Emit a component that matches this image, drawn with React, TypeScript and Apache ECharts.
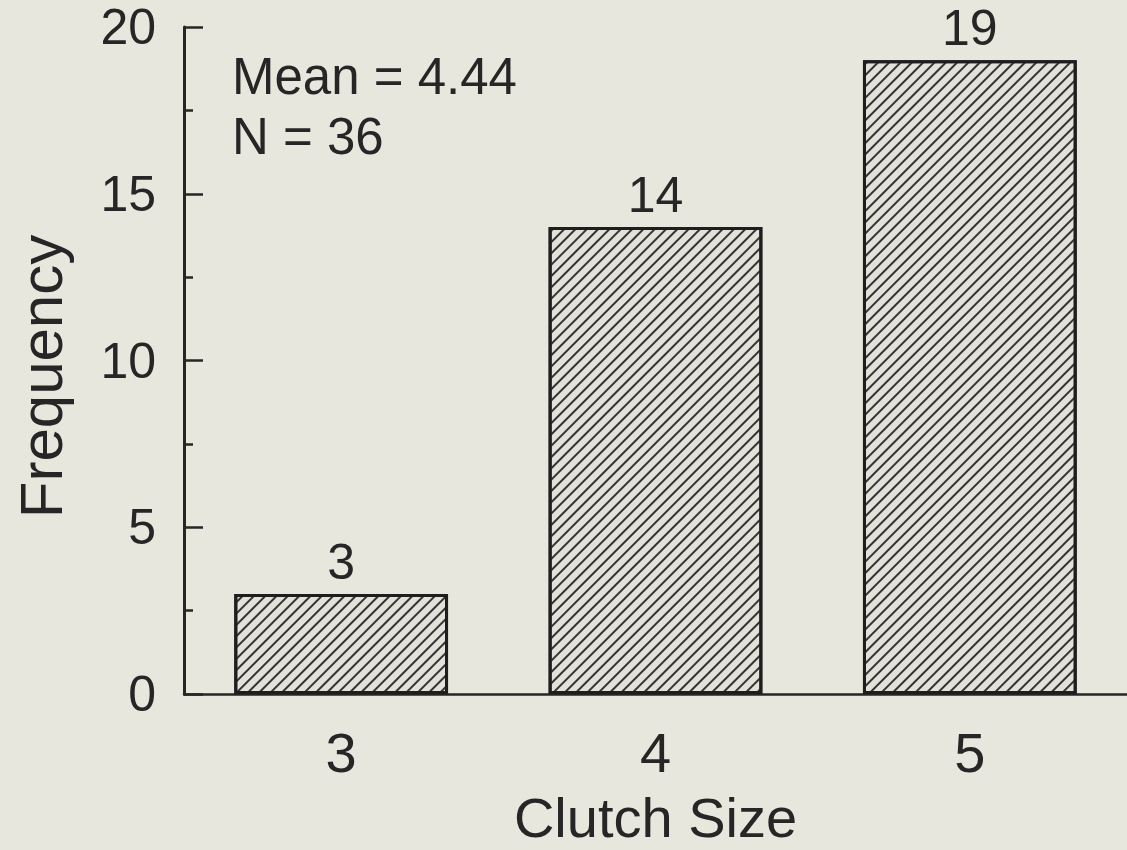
import React, { useEffect, useRef } from "react";
import * as echarts from "echarts";

const categories = ["3", "4", "5"];
const frequencies = [3, 14, 19];
const yTicks = { min: 0, max: 20, interval: 5 };
const statLines = ["Mean = 4.44", "N = 36"];
const xTitle = "Clutch Size";
const yTitle = "Frequency";

const FONT = "'Liberation Sans', Arial, Helvetica, sans-serif";
const INK = "#262626";
const BG = "#e8e7de";

export default function App() {
  const ref = useRef<HTMLDivElement>(null);
  useEffect(() => {
    if (!ref.current) return;
    const chart = echarts.init(ref.current, null, { renderer: "svg" });
    chart.setOption({
      animation: false,
      backgroundColor: BG,
      textStyle: { fontFamily: FONT, color: INK },
      grid: { left: 184, right: 0, top: 27, bottom: 153, containLabel: false },
      xAxis: {
        type: "category",
        data: categories,
        axisLine: { show: true, lineStyle: { color: INK, width: 2.5 } },
        axisTick: { show: false },
        axisLabel: { fontSize: 56, color: INK, margin: 30, fontFamily: FONT },
        name: xTitle,
        nameLocation: "middle",
        nameGap: 95,
        nameTextStyle: { fontSize: 56, color: INK, fontFamily: FONT },
      },
      yAxis: {
        type: "value",
        min: yTicks.min,
        max: yTicks.max,
        interval: yTicks.interval,
        axisLine: { show: true, lineStyle: { color: INK, width: 3 } },
        axisTick: { show: true, inside: true, length: 19, lineStyle: { color: INK, width: 2.5 } },
        minorTick: { show: true, splitNumber: 2, length: 9, lineStyle: { color: INK, width: 2.5 } },
        splitLine: { show: false },
        axisLabel: { fontSize: 50, color: INK, margin: 28, fontFamily: FONT, padding: [8, 0, 0, 0] },
        name: yTitle,
        nameLocation: "middle",
        nameGap: 113,
        nameRotate: 90,
        nameTextStyle: { fontSize: 60, color: INK, fontFamily: FONT, padding: [0, 32, 0, 0] },
      },
      series: [
        {
          type: "bar",
          data: frequencies,
          barWidth: "68%",
          itemStyle: {
            color: "#e3e2da",
            borderColor: "#1e1e1e",
            borderWidth: 3,
            decal: {
              symbol: "rect",
              symbolSize: 1,
              dashArrayX: [1, 0],
              dashArrayY: [1.8, 5.8],
              rotation: -Math.PI / 4,
              color: "#333333",
            },
          },
          label: {
            show: true,
            position: "top",
            distance: 7,
            fontSize: 50,
            color: INK,
            fontFamily: FONT,
          },
        },
      ],
      graphic: statLines.map((t, i) => ({
        type: "text",
        left: 232,
        top: 51 + i * 60,
        style: { text: t, fontSize: 51, fill: INK, fontFamily: FONT },
      })),
    });
    return () => chart.dispose();
  }, []);
  return (
    <div
      ref={ref}
      style={{ position: "fixed", left: 0, top: 0, width: 1127, height: 850 }}
    />
  );
}
